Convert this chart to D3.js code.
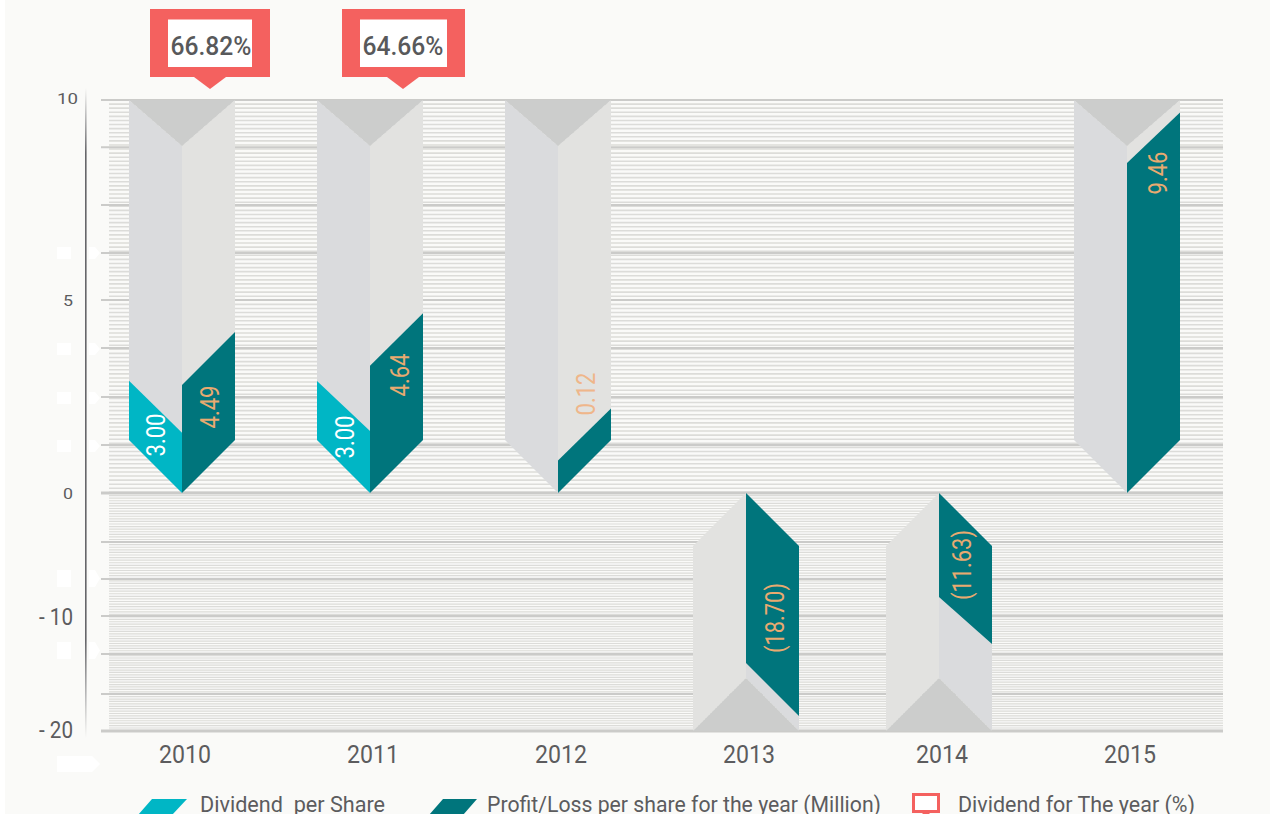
<!DOCTYPE html>
<html><head><meta charset="utf-8">
<script src="https://cdn.jsdelivr.net/npm/d3@7/dist/d3.min.js"></script>
<style>html,body{margin:0;padding:0;background:#fff;overflow:hidden}svg{display:block}text{font-family:Roboto,"Noto Sans",sans-serif}</style>
</head><body><div id="chart"></div>
<script>
const years=["2010","2011","2012","2013","2014","2015"];
const dividendLabels=["3.00","3.00",null,null,null,null];
const profitLabels=["4.49","4.64","0.12","(18.70)","(11.63)","9.46"];
const dividendDrawn=[1.53,1.58,null,null,null,null];
const profitDrawn=[2.75,3.24,0.83,-14.09,-8.46,8.40];
const payoutLabels=["66.82%","64.66%",null,null,null,null];
const yTickValues=[10,5,0,-10,-20];
const yTickLabels=["10","5","0","- 10","- 20"];
const majorGrid=[10,8.8,7.33,6.11,4.91,3.69,2.44,1.22,0,-3.98,-6.99,-10,-13.3,-16.78,-20];
const legendLabels=["Dividend  per Share","Profit/Loss per share for the year (Million)","Dividend for The year (%)"];

const W=1270,H=814;
const C={bg:"#fafaf8",major:"#cbcbc9",minor:"#dcdcd9",notch:"#cccdcc",faceA:"#dadbdd",faceB:"#e2e2e0",cyan:"#00b6c5",teal:"#00757c",red:"#f4615f",label:"#e9aa70",text:"#5c5c5e"};
const svg=d3.select("#chart").append("svg").attr("width",W).attr("height",H);
svg.append("rect").attr("x",5).attr("width",W-5).attr("height",H).attr("fill",C.bg);

const y=d3.scaleLinear().domain([10,0,-10,-20]).range([100,493,616,731]);
const x=d3.scaleOrdinal().domain(years).range([182,370,558,746,939,1127]);
const halfW=53,slant=53,notchUp=46,notchDown=53;
const profitRise=[53,52.5,52,53,47,50.5],dividendRise=[52,50];
const pts=a=>a.map(p=>p.join(",")).join(" ");

// grid
const gridL=101,stripeL=109,gridR=1223;
const g=svg.append("g");
const topStripes=d3.range(10,0,-0.104);
const botStripes=d3.range(0,-20,-0.21);
g.selectAll(".s").data(topStripes.concat(botStripes)).join("line")
 .attr("x1",stripeL).attr("x2",gridR).attr("y1",d=>y(d)).attr("y2",d=>y(d))
 .attr("stroke",C.minor).attr("stroke-width",d=>d>=0?1.6:1.2);
g.selectAll(".m").data(majorGrid).join("line")
 .attr("x1",gridL).attr("x2",gridR).attr("y1",d=>y(d)).attr("y2",d=>y(d))
 .attr("stroke",C.major).attr("stroke-width",d=>(d===0||d===-20)?3:2);

// left axis line
const defs=svg.append("defs");
const lg=defs.append("linearGradient").attr("id","ax").attr("x1",0).attr("x2",0).attr("y1",0).attr("y2",1);
lg.append("stop").attr("offset",0).attr("stop-color","#66666a").attr("stop-opacity",0);
lg.append("stop").attr("offset",0.1).attr("stop-color","#66666a");
lg.append("stop").attr("offset",0.85).attr("stop-color","#66666a");
lg.append("stop").attr("offset",1).attr("stop-color","#66666a").attr("stop-opacity",0);
svg.append("rect").attr("x",85).attr("y",88).attr("width",1.6).attr("height",650).attr("fill","url(#ax)");

// white marks near axis
[[247,12],[343,12],[392,12],[440,12],[570,17],[642,17]].forEach(([t,h])=>{
  svg.append("rect").attr("x",57).attr("y",t).attr("width",14).attr("height",h).attr("fill","#fff");
  svg.append("polygon").attr("points",pts([[89,t],[95,t],[100,t+h/2],[95,t+h],[89,t+h]])).attr("fill","#fff");
});
svg.append("polygon").attr("points",pts([[57,756],[92,756],[100,764],[92,772],[57,772]])).attr("fill","#fff");

// bars
const bars=svg.append("g");
years.forEach((yr,i)=>{
  const cx=x(yr),L=cx-halfW,R=cx+halfW,v=profitDrawn[i];
  if(v>=0){
    const top=y(10),base=y(0);
    bars.append("polygon").attr("fill",C.faceA).attr("points",pts([[L,top],[cx,top+notchUp],[cx,base],[L,base-slant]]));
    bars.append("polygon").attr("fill",C.faceB).attr("points",pts([[cx,top+notchUp],[R,top],[R,base-slant],[cx,base]]));
    bars.append("polygon").attr("fill",C.notch).attr("points",pts([[L,top],[R,top],[cx,top+notchUp]]));
    bars.append("polygon").attr("fill",C.teal).attr("points",pts([[cx,y(v)],[R,y(v)-profitRise[i]],[R,base-slant],[cx,base]]));
    if(dividendDrawn[i]!=null){
      const d=dividendDrawn[i];
      bars.append("polygon").attr("fill",C.cyan).attr("points",pts([[L,y(d)-dividendRise[i]],[cx,y(d)],[cx,base],[L,base-slant]]));
    }
  }else{
    const top=y(0),base=y(-20);
    bars.append("polygon").attr("fill",C.faceB).attr("points",pts([[L,top+slant],[cx,top],[cx,base-notchDown],[L,base]]));
    bars.append("polygon").attr("fill",C.faceA).attr("points",pts([[cx,top],[R,top+slant],[R,base],[cx,base-notchDown]]));
    bars.append("polygon").attr("fill",C.notch).attr("points",pts([[L,base],[R,base],[cx,base-notchDown]]));
    bars.append("polygon").attr("fill",C.teal).attr("points",pts([[cx,top],[R,top+slant],[R,y(v)+profitRise[i]],[cx,y(v)]]));
  }
});

// value labels (offset from the bar centre, and from the zero line)
const profitOffset=[[28,-86],[30,-118],[28,-99],[29,125],[23,72],[31,-320]];
const divOffset=[[-26,-58],[-25,-56]];
function vlabel(t,px,py,fill,len){
  svg.append("text").attr("transform",`translate(${px},${py}) rotate(-90)`)
   .attr("text-anchor","middle").attr("dominant-baseline","central")
   .attr("font-size",25).attr("fill",fill)
   .attr("textLength",len).attr("lengthAdjust","spacingAndGlyphs").text(t);
}
profitLabels.forEach((t,i)=>{
  const [dx,dy]=profitOffset[i];
  vlabel(t,x(years[i])+dx,y(0)+dy,i==2?"#efb68a":C.label,t.length>4?70:43);
});
dividendLabels.forEach((t,i)=>{
  if(!t)return;
  const [dx,dy]=divOffset[i];
  vlabel(t,x(years[i])+dx,y(0)+dy,"#fff",43);
});

// callouts
const callX=[[150,270,168,252,210],[342,465,360,447,403]];
payoutLabels.forEach((t,i)=>{
  if(!t)return;
  const [a,b,c,d,p]=callX[i];
  svg.append("rect").attr("x",a).attr("y",9).attr("width",b-a).attr("height",68).attr("fill",C.red);
  svg.append("rect").attr("x",c).attr("y",19.5).attr("width",d-c).attr("height",47.5).attr("fill","#fff");
  svg.append("polygon").attr("points",pts([[p-16,77],[p+16,77],[p,89]])).attr("fill",C.red);
  svg.append("text").attr("x",(c+d)/2+1-i*1.5).attr("y",55).attr("text-anchor","middle").attr("font-size",25).attr("font-weight",500)
    .attr("fill","#58595b").attr("textLength",81).attr("lengthAdjust","spacingAndGlyphs").text(t);
});

// y tick labels
const tickRight=[78,73,73,73,73],tickSize=[15,15,15,24,24],tickLen=[21,10,10,34,34],tickDrop=[4,9,5.5,9,7];
yTickValues.forEach((v,i)=>{
  svg.append("text").attr("x",tickRight[i]).attr("y",y(v)+tickDrop[i]).attr("text-anchor","end")
   .attr("font-size",tickSize[i]).attr("fill",C.text).attr("textLength",tickLen[i]).attr("lengthAdjust","spacingAndGlyphs").text(yTickLabels[i]);
});
// year labels
years.forEach(yr=>{
  svg.append("text").attr("x",x(yr)+3).attr("y",763).attr("text-anchor","middle").attr("font-size",26.5)
   .attr("fill",C.text).attr("textLength",52).attr("lengthAdjust","spacingAndGlyphs").text(yr);
});
// legend
svg.append("polygon").attr("fill",C.cyan).attr("points",pts([[138,815],[152,799],[187,799],[172,815]]));
svg.append("polygon").attr("fill",C.teal).attr("points",pts([[429,815],[443,799],[477,799],[463,815]]));
svg.append("rect").attr("x",913.5).attr("y",794.5).attr("width",25).attr("height",17).attr("fill","#fff").attr("stroke",C.red).attr("stroke-width",3);
svg.append("polygon").attr("fill",C.red).attr("points",pts([[921,812],[931,812],[926,817]]));
[[200,185],[487,394],[958,237]].forEach(([lx,len],i)=>{
  svg.append("text").attr("x",lx).attr("y",812).attr("font-size",22).attr("fill",C.text)
   .style("white-space","pre")
   .attr("textLength",len).attr("lengthAdjust","spacingAndGlyphs").text(legendLabels[i]);
});
</script></body></html>
